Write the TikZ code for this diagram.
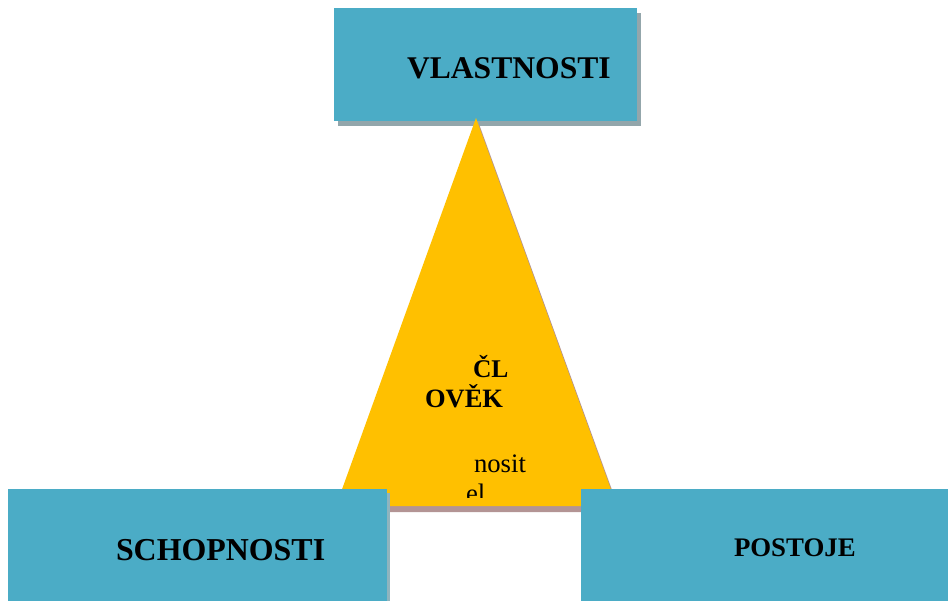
\documentclass[tikz,border=0pt]{standalone}
\usepackage{fontspec}
\setmainfont{Liberation Serif}
\definecolor{boxblue}{HTML}{4BACC6}
\definecolor{boxshadow}{HTML}{93A6AB}
\definecolor{softshadow}{HTML}{8FB4BE}
\definecolor{triyellow}{HTML}{FFC000}
\definecolor{trishadow}{HTML}{B39494}
\tikzset{
  panel/.style={fill=boxblue, draw=none, inner sep=0pt, outer sep=0pt},
  panelshadow/.style={fill=boxshadow, draw=none},
  lbl/.style={anchor=base west, inner sep=0pt, outer sep=0pt, text=black},
}
\begin{document}
\begin{tikzpicture}[x=1pt,y=-1pt]
\useasboundingbox (0,0) rectangle (948,601);
\clip (0,0) rectangle (948,601);
% top box
\fill[panelshadow] (338,13) rectangle (641,126);
\node[panel, minimum width=303pt, minimum height=113pt, anchor=north west] (vl) at (334,8) {};
% triangle
\fill[trishadow] (479,124) -- (620,512) -- (339,512) -- cycle;
\fill[triyellow] (476,118) -- (617,506) -- (336,506) -- cycle;
\coordinate (apex) at (476,118);
% texts on top box and triangle
\node[lbl] (vltext) at (407,79) {\fontsize{31.6}{38}\selectfont\bfseries VLASTNOSTI};
\node[lbl] (cl) at (473,378) {\fontsize{25.5}{30}\selectfont\bfseries ČL};
\node[lbl] (ovek) at (425,408) {\fontsize{26.5}{30}\selectfont\bfseries OVĚK};
\node[lbl] (nosit) at (474,472) {\fontsize{26.7}{30}\selectfont nosit};
\begin{scope}
\clip (0,0) rectangle (948,497);
\node[lbl] (el) at (466,502) {\fontsize{26.7}{30}\selectfont el};
\end{scope}
% bottom boxes
\fill[softshadow] (10,493) rectangle (389.5,620);
\node[panel, minimum width=379pt, minimum height=125pt, anchor=north west] (sch) at (8,489) {};
\node[panel, minimum width=380pt, minimum height=125pt, anchor=north west] (pos) at (581,489) {};
\node[lbl] (schtext) at (116,560) {\fontsize{31.9}{38}\selectfont\bfseries SCHOPNOSTI};
\node[lbl] (postext) at (734,556) {\fontsize{26.8}{32}\selectfont\bfseries POSTOJE};
\end{tikzpicture}
\end{document}
